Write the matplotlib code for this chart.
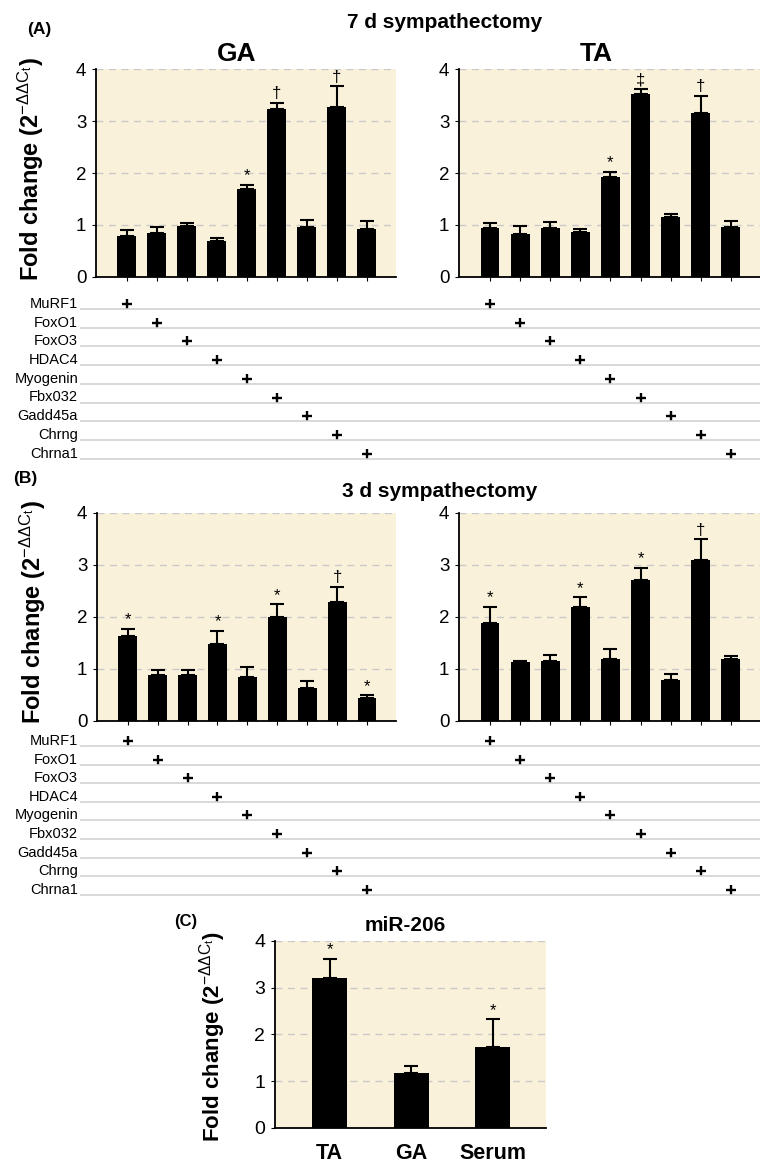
import numpy as np
import matplotlib
matplotlib.use("Agg")
import matplotlib.pyplot as plt
from matplotlib.lines import Line2D
from matplotlib.transforms import blended_transform_factory

plt.rcParams['font.family'] = ['Liberation Sans', 'DejaVu Sans']
plt.rcParams['mathtext.fontset'] = 'custom'
plt.rcParams['mathtext.rm'] = 'Liberation Sans'
plt.rcParams['mathtext.default'] = 'rm'

# Data
genes = ["MuRF1", "FoxO1", "FoxO3", "HDAC4", "Myogenin", "Fbx032", "Gadd45a", "Chrng", "Chrna1"]

ga_7d = [0.79, 0.85, 0.98, 0.70, 1.69, 3.24, 0.96, 3.26, 0.92]
ga_7d_err = [0.12, 0.11, 0.06, 0.05, 0.08, 0.11, 0.13, 0.41, 0.15]
ga_7d_sig = ["", "", "", "", "*", "†", "", "†", ""]

ta_7d = [0.94, 0.83, 0.94, 0.87, 1.93, 3.52, 1.16, 3.15, 0.97]
ta_7d_err = [0.10, 0.15, 0.12, 0.05, 0.09, 0.09, 0.06, 0.33, 0.10]
ta_7d_sig = ["", "", "", "", "*", "‡", "", "†", ""]

ga_3d = [1.62, 0.87, 0.88, 1.47, 0.84, 1.99, 0.63, 2.28, 0.43]
ga_3d_err = [0.14, 0.10, 0.10, 0.26, 0.19, 0.25, 0.13, 0.30, 0.06]
ga_3d_sig = ["*", "", "", "*", "", "*", "", "†", "*"]

ta_3d = [1.87, 1.13, 1.15, 2.19, 1.18, 2.71, 0.78, 3.10, 1.18]
ta_3d_err = [0.32, 0.02, 0.12, 0.18, 0.20, 0.23, 0.12, 0.39, 0.06]
ta_3d_sig = ["*", "", "", "*", "", "*", "", "†", ""]

mir_groups = ["TA", "GA", "Serum"]
mir_206 = [3.20, 1.17, 1.72]
mir_206_err = [0.41, 0.15, 0.60]
mir_206_sig = ["*", "", "*"]

W, H = 760, 1167
BG = "#F9F1D9"
ylab = r"Fold change (2$^{-\Delta\Delta C_t}$)"

fig = plt.figure(figsize=(W / 100, H / 100), dpi=100)


def box(x0, y_top, y_bot, w):
    return [x0 / W, 1 - y_bot / H, w / W, (y_bot - y_top) / H]


def bar_panel(ax, vals, errs, sig, width, xlim, ylabel_fs=None, tick_fs=13.5):
    x = np.arange(len(vals))
    ax.set_facecolor(BG)
    ax.bar(x, vals, width=width, color="black", zorder=3)
    ax.errorbar(x, vals, yerr=[np.zeros(len(vals)), errs], fmt="none",
                ecolor="black", elinewidth=1.5, capsize=5, capthick=1.5, zorder=3)
    for xi, v, e, s in zip(x, vals, errs, sig):
        if s:
            ax.text(xi, v + e + 0.03, s, ha="center", va="bottom", fontsize=12)
    ax.set_ylim(0, 4)
    ax.set_xlim(*xlim)
    ax.set_yticks([0, 1, 2, 3, 4])
    ax.yaxis.grid(True, linestyle=(0, (5, 4)), color="#c9c9c9", lw=1)
    ax.set_axisbelow(True)
    for sp in ["top", "right"]:
        ax.spines[sp].set_visible(False)
    for sp in ["left", "bottom"]:
        ax.spines[sp].set_linewidth(1.3)
    ax.tick_params(axis="y", direction="out", length=3, labelsize=tick_fs, pad=4)
    ax.set_xticks(x)
    ax.tick_params(axis="x", direction="out", length=3, labelbottom=False)
    if ylabel_fs:
        ax.set_ylabel(ylab, fontsize=ylabel_fs, fontweight="bold")
    return x


xl = (-1.03, 8.97)
axA1 = fig.add_axes(box(96, 69, 277, 300))
axA2 = fig.add_axes(box(459, 69, 277, 301))
axB1 = fig.add_axes(box(97, 512.7, 720.7, 299))
axB2 = fig.add_axes(box(459, 512.7, 720.7, 301))
axC = fig.add_axes(box(275, 940.7, 1128, 271))

bar_panel(axA1, ga_7d, ga_7d_err, ga_7d_sig, 0.63, xl, 17)
bar_panel(axA2, ta_7d, ta_7d_err, ta_7d_sig, 0.63, xl)
bar_panel(axB1, ga_3d, ga_3d_err, ga_3d_sig, 0.63, xl, 17)
bar_panel(axB2, ta_3d, ta_3d_err, ta_3d_sig, 0.63, xl)
bar_panel(axC, mir_206, mir_206_err, mir_206_sig, 0.43, (-0.67, 2.65), 16, tick_fs=14)
axC.set_xticks(range(len(mir_groups)))
axC.set_xticklabels(mir_groups, fontsize=15.5, fontweight="bold")
axC.tick_params(axis="x", length=0, labelbottom=True, pad=11)

for ax in [axA1, axB1]:
    ax.yaxis.set_label_coords(-0.165, 0.52)
axC.yaxis.set_label_coords(-0.175, 0.49)

axA1.set_title("GA", fontsize=19, fontweight="bold", x=0.47, pad=6)
axA2.set_title("TA", fontsize=19, fontweight="bold", x=0.455, pad=6)
axC.set_title("miR-206", fontsize=15, fontweight="bold", x=0.48, pad=7)

fig.text(445 / W, 1 - 28 / H, "7 d sympathectomy", fontsize=15, fontweight="bold",
         ha="center", va="baseline")
fig.text(440 / W, 1 - 497 / H, "3 d sympathectomy", fontsize=15, fontweight="bold",
         ha="center", va="baseline")
fig.text(27 / W, 1 - 34 / H, "(A)", fontsize=12.5, fontweight="bold", va="baseline")
fig.text(13 / W, 1 - 483 / H, "(B)", fontsize=12.5, fontweight="bold", va="baseline")
fig.text(174 / W, 1 - 926 / H, "(C)", fontsize=12, fontweight="bold", va="baseline")


# gene grid under panels A and B
def gene_grid(axes_pair, y_first, step):
    for i, g in enumerate(genes):
        y = 1 - (y_first + i * step) / H
        fig.add_artist(Line2D([81 / W, 1.0], [y, y], transform=fig.transFigure,
                              color="#d2d2d2", lw=1.2))
        fig.text(78 / W, y + 1 / H, g, fontsize=10.5, ha="right", va="baseline")
        for ax in axes_pair:
            tr = blended_transform_factory(ax.transData, fig.transFigure)
            ax.plot([i], [y + 5 / H], marker="+", color="black", ms=7, mew=1.7,
                    transform=tr, clip_on=False)


gene_grid([axA1, axA2], 309, 18.7)
gene_grid([axB1, axB2], 746, 18.6)

fig.savefig("out.png", dpi=100)
